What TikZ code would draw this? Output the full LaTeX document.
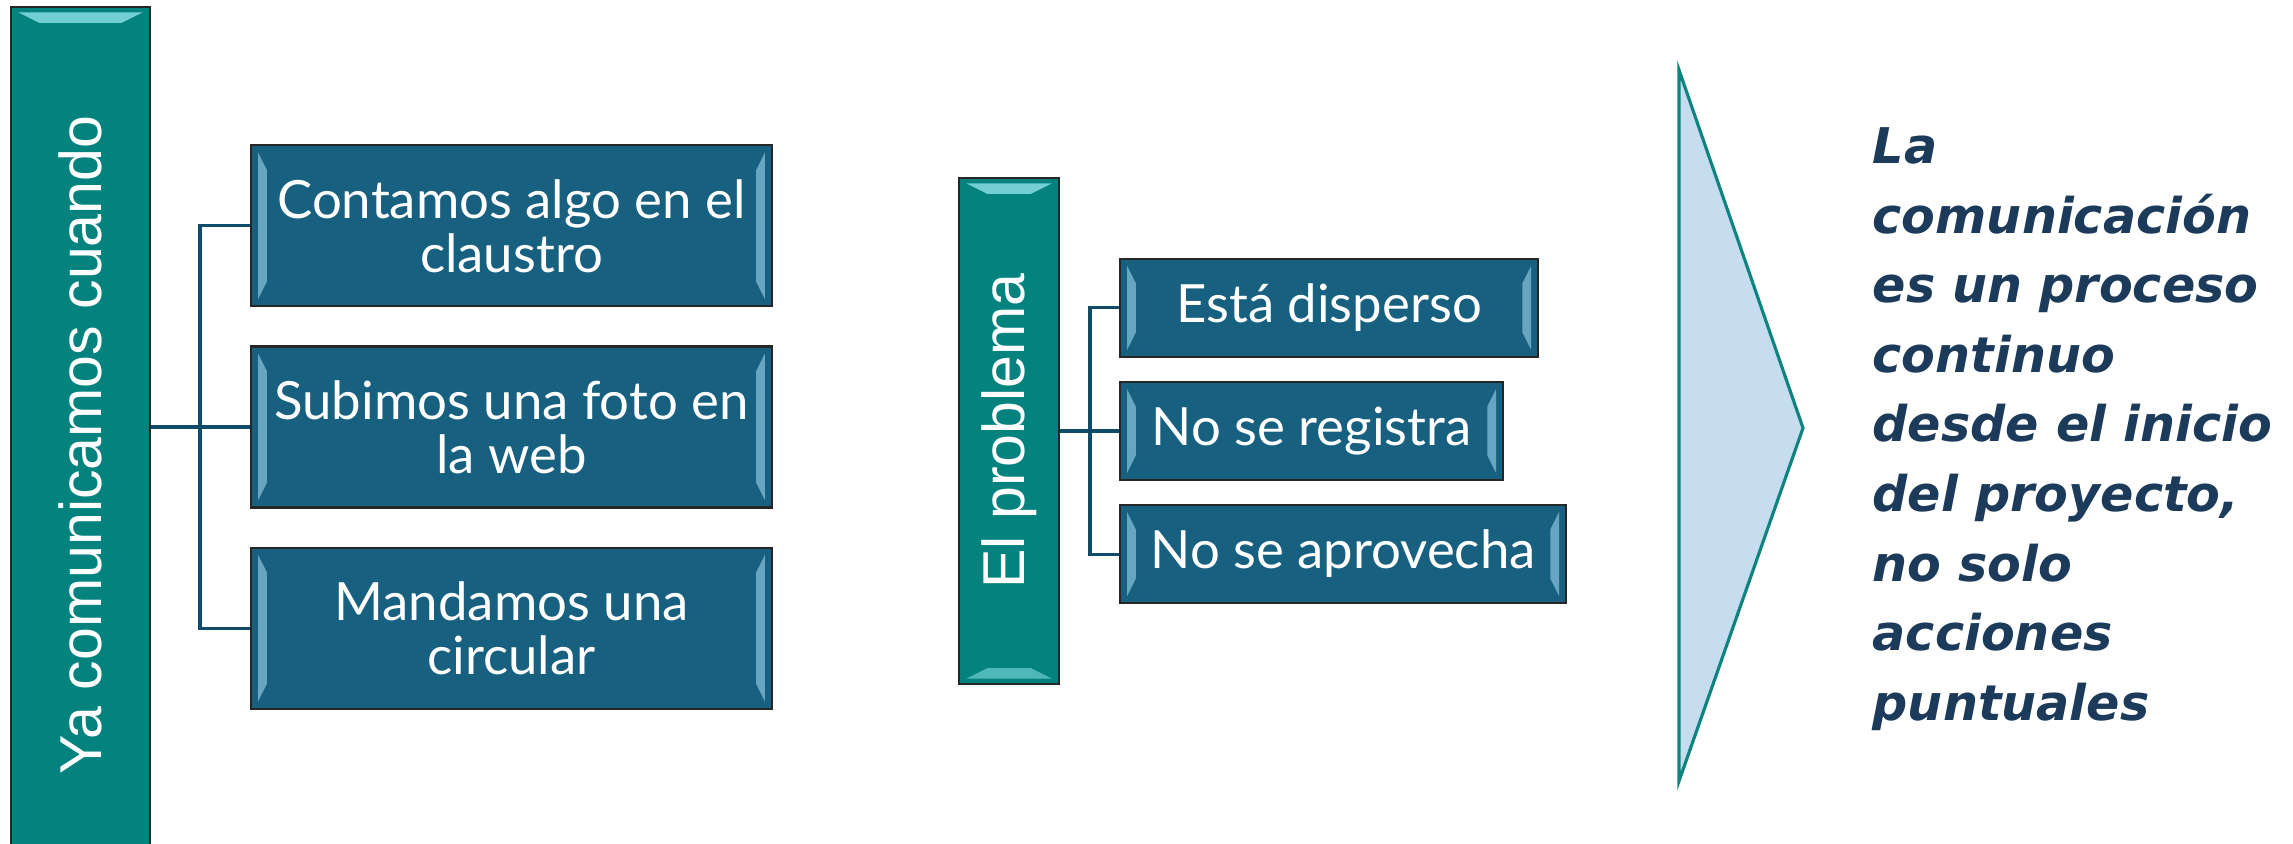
\documentclass[tikz,border=0pt]{standalone}
\usepackage{fontspec}
\newfontfamily\tallfont{Liberation Sans}
\newfontfamily\itemfont{Lato}
\newfontfamily\notefont{DejaVu Sans}
\usepackage{tikz}
\usetikzlibrary{positioning}
\definecolor{tealbox}{HTML}{04827E}
\definecolor{bluebox}{HTML}{17607F}
\definecolor{linkblue}{HTML}{0F4C6A}
\definecolor{glint}{HTML}{8FE3EA}
\definecolor{glintb}{HTML}{9FD3EE}
\definecolor{wedge}{HTML}{C6DDF0}
\definecolor{wedgeline}{HTML}{0E8480}
\definecolor{notecol}{HTML}{1C3A5A}
\tikzstyle{tallbox} = [rectangle,draw=black!85,line width=.6pt,fill=tealbox,text=white,inner sep=0,
	font=\tallfont\fontsize{16.8}{18}\selectfont,
	path picture={
		\fill[glint,opacity=.8] ([shift={(2pt,-1.5pt)}]path picture bounding box.north west) -- ([shift={(-2pt,-1.5pt)}]path picture bounding box.north east)
			-- ([shift={(-8pt,-4.5pt)}]path picture bounding box.north east) -- ([shift={(8pt,-4.5pt)}]path picture bounding box.north west) -- cycle;
		\fill[glint,opacity=.55] ([shift={(2pt,1.5pt)}]path picture bounding box.south west) -- ([shift={(-2pt,1.5pt)}]path picture bounding box.south east)
			-- ([shift={(-8pt,4.5pt)}]path picture bounding box.south east) -- ([shift={(8pt,4.5pt)}]path picture bounding box.south west) -- cycle;
	}]
\tikzstyle{itembox} = [rectangle,draw=black!85,line width=.6pt,fill=bluebox,text=white,inner sep=0,align=center,
	font=\itemfont\fontsize{15}{15.4}\selectfont,
	path picture={
		\fill[glintb,opacity=.6] ([shift={(2pt,-2pt)}]path picture bounding box.north west) -- ([shift={(2pt,2pt)}]path picture bounding box.south west)
			-- ([shift={(4.5pt,7pt)}]path picture bounding box.south west) -- ([shift={(4.5pt,-7pt)}]path picture bounding box.north west) -- cycle;
		\fill[glintb,opacity=.6] ([shift={(-2pt,-2pt)}]path picture bounding box.north east) -- ([shift={(-2pt,2pt)}]path picture bounding box.south east)
			-- ([shift={(-4.5pt,7pt)}]path picture bounding box.south east) -- ([shift={(-4.5pt,-7pt)}]path picture bounding box.north east) -- cycle;
	}]
\tikzstyle{link} = [draw=linkblue,line width=.9pt]
\tikzstyle{note} = [inner sep=0,align=left,text=notecol,font=\notefont\bfseries\itshape\fontsize{14}{19.8}\selectfont]

\begin{document}
\begin{tikzpicture}
	\useasboundingbox (0,0) rectangle (22.93,8.43);
	% first group
	\node[tallbox,minimum width=1.39cm,minimum height=8.76cm] (ya) at (0.805,3.98) {\rotatebox{90}{Ya comunicamos cuando}};
	\node[itembox,minimum width=5.21cm,minimum height=1.61cm] (foto) at (5.115,4.16) {Subimos una foto en\\la web};
	\node[itembox,minimum width=5.21cm,minimum height=1.61cm] (claustro) [above=0.38cm of foto] {Contamos algo en el\\claustro};
	\node[itembox,minimum width=5.21cm,minimum height=1.61cm] (circular) [below=0.38cm of foto] {Mandamos una\\circular};
	\coordinate (j1) at (2.00,4.16);
	\draw[link] (ya.east |- j1) -- (j1);
	\draw[link] (claustro.west) -| (j1) |- (circular.west);
	\draw[link] (j1) -- (foto.west);

	% second group
	\node[tallbox,minimum width=1.00cm,minimum height=5.06cm] (prob) at (10.09,4.12) {\rotatebox{90}{El problema}};
	\node[itembox,minimum width=3.83cm,minimum height=0.98cm,anchor=west] (registra) at (11.19,4.12) {No se registra};
	\node[itembox,minimum width=4.18cm,minimum height=0.98cm] (disperso) [above=0.23cm of registra.north west,anchor=south west] {Está disperso};
	\node[itembox,minimum width=4.46cm,minimum height=0.98cm] (aprovecha) [below=0.23cm of registra.south west,anchor=north west] {No se aprovecha};
	\coordinate (j2) at (10.90,4.12);
	\draw[link] (prob.east) -- (j2);
	\draw[link] (disperso.west) -| (j2) |- (aprovecha.west);
	\draw[link] (j2) -- (registra.west);

	% arrow wedge and message
	\coordinate (w1) at (16.79,7.73);
	\coordinate (w2) at (18.03,4.15);
	\coordinate (w3) at (16.79,0.62);
	\draw[fill=wedge,draw=wedgeline,line width=.9pt,line join=miter] (w1) -- (w2) -- (w3) -- cycle;
	\node[note,anchor=north west] (msg) at (18.72,7.16) {La\\comunicación\\es un proceso\\continuo\\desde el inicio\\del proyecto,\\no solo\\acciones\\puntuales};
\end{tikzpicture}
\end{document}
